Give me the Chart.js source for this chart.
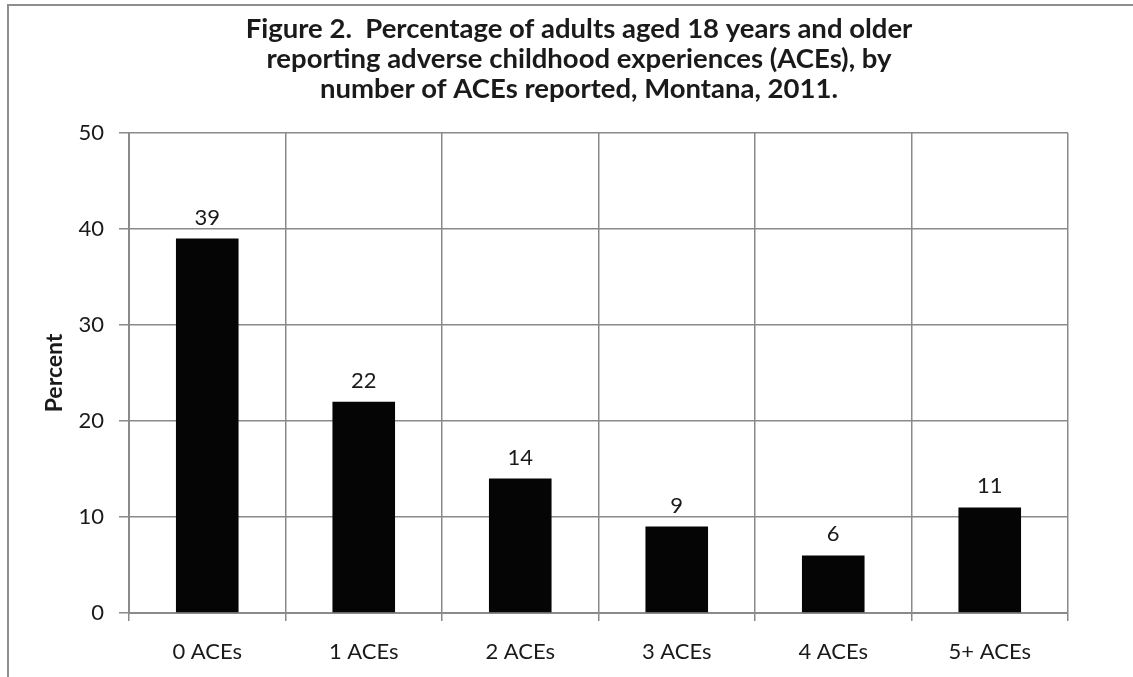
<!DOCTYPE html>
<html>
<head>
<meta charset="utf-8">
<script src="https://cdn.jsdelivr.net/npm/chart.js@4"></script>
<style>
  html, body { margin: 0; padding: 0; background: #fff; overflow: hidden; }
  #wrap { width: 1133px; height: 677px; }
</style>
</head>
<body>
<div id="wrap"><canvas id="chart" width="1133" height="677"></canvas></div>
<script>
// values
const categories = ["0 ACEs", "1 ACEs", "2 ACEs", "3 ACEs", "4 ACEs", "5+ ACEs"];
const percentValues = [39, 22, 14, 9, 6, 11];
const yTicks = [0, 10, 20, 30, 40, 50];
const titleLines = [
	"Figure 2.  Percentage of adults aged 18 years and older",
	"reporting adverse childhood experiences (ACEs), by",
	"number of ACEs reported, Montana, 2011."
];

const FONT = "Lato, 'Open Sans', sans-serif";
const GRID = "#8a8a8a";

// grey frame round the whole figure (runs off the right and bottom edge)
const frame = {
	id: "frame",
	beforeDraw(chart) {
		const ctx = chart.ctx;
		ctx.save();
		ctx.strokeStyle = "#8e8e8e";
		ctx.lineWidth = 2;
		ctx.strokeRect(8, 5, chart.width + 20, chart.height + 20);
		ctx.restore();
	}
};

// value above each bar
const barValues = {
	id: "barValues",
	afterDatasetsDraw(chart) {
		const ctx = chart.ctx;
		const meta = chart.getDatasetMeta(0);
		const data = chart.data.datasets[0].data;
		ctx.save();
		ctx.font = "22px " + FONT;
		ctx.fillStyle = "#1a1a1a";
		ctx.textAlign = "center";
		ctx.textBaseline = "alphabetic";
		meta.data.forEach(function (bar, i) {
			ctx.fillText(String(data[i]), bar.x, bar.y - 14);
		});
		ctx.restore();
	}
};

new Chart(document.getElementById("chart"), {
	type: "bar",
	data: {
		labels: categories,
		datasets: [{
			data: percentValues,
			backgroundColor: "#050505",
			borderWidth: 0,
			categoryPercentage: 1,
			barPercentage: 0.4
		}]
	},
	options: {
		responsive: false,
		animation: false,
		devicePixelRatio: 1,
		// title is centred a little right of the page centre
		layout: { padding: { left: 25, right: 0, top: 0, bottom: 0 } },
		plugins: {
			legend: { display: false },
			tooltip: { enabled: false },
			title: {
				display: true,
				text: titleLines,
				color: "#1a1a1a",
				font: { family: FONT, size: 27.5, weight: "bold", lineHeight: 1.09 },
				padding: { top: 14, bottom: 29 }
			}
		},
		scales: {
			x: {
				grid: { color: GRID, lineWidth: 1.5, tickLength: 8, offset: true },
				border: { color: GRID, width: 2 },
				ticks: { color: "#1a1a1a", font: { family: FONT, size: 22 }, padding: 18, maxRotation: 0 },
				afterFit(scale) { scale.height = 64; }
			},
			y: {
				min: 0,
				max: 50,
				afterBuildTicks(scale) { scale.ticks = yTicks.map(function (v) { return { value: v }; }); },
				grid: { color: GRID, lineWidth: 1.5, tickLength: 10 },
				border: { color: GRID, width: 2 },
				ticks: { color: "#1a1a1a", font: { family: FONT, size: 22 }, padding: 15 },
				title: {
					display: true,
					text: "Percent",
					color: "#1a1a1a",
					font: { family: FONT, size: 23, weight: "bold" },
					padding: { top: 16, bottom: 0 }
				},
				afterFit(scale) { scale.width = 104; }
			},
			// empty space right of the plot
			spacer: {
				type: "linear",
				position: "right",
				grid: { display: false },
				border: { display: false },
				ticks: { display: false },
				afterFit(scale) { scale.width = 65; }
			}
		}
	},
	plugins: [frame, barValues]
});
</script>
</body>
</html>
